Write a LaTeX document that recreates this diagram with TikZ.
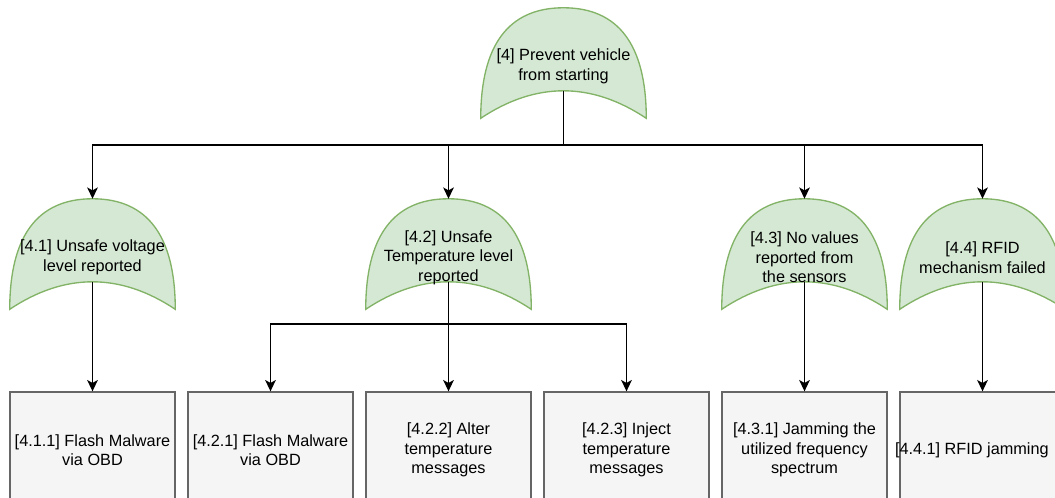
\documentclass[tikz,border=0pt]{standalone}
\usepackage{fontspec}
\setmainfont{Liberation Sans}
\usetikzlibrary{arrows.meta,backgrounds}

\definecolor{gatefill}{HTML}{D5E8D4}
\definecolor{gateline}{HTML}{82B366}
\definecolor{boxfill}{HTML}{F5F5F5}
\definecolor{boxline}{HTML}{666666}

\tikzset{
  labelfont/.style={font=\fontsize{12.2}{14.6}\selectfont},
  gate/.style={labelfont, minimum width=123.75pt, minimum height=82.5pt,
    inner sep=0pt, align=center},
  gateshape/.style={draw=gateline, fill=gatefill, line width=1pt},
  leaf/.style={labelfont, draw=boxline, fill=boxfill, line width=1pt,
    minimum width=123.75pt, minimum height=87pt, inner sep=0pt, align=center},
  link/.style={line width=1pt, -{Stealth[length=8.5pt,width=8pt,inset=2.2pt]}},
}

% OR-gate outline (pointing up) behind a gate node; the outline sits a
% little above the label. Defines #1-top and #1-base for the connectors.
\newcommand\gateoutline[1]{%
  \coordinate (#1-sw) at ([yshift=2.6pt]#1.south west);
  \coordinate (#1-se) at ([yshift=2.6pt]#1.south east);
  \coordinate (#1-top) at ([yshift=2.6pt]#1.north);
  \coordinate (#1-base) at ([yshift=23.2pt]#1.south);
  \begin{pgfonlayer}{background}
    \draw[gateshape] (#1-sw)
      .. controls ([yshift=55pt]#1-sw) and ([xshift=-41.25pt]#1-top) .. (#1-top)
      .. controls ([xshift=41.25pt]#1-top) and ([yshift=55pt]#1-se) .. (#1-se)
      .. controls ([shift={(-41.25pt,27.5pt)}]#1-se)
             and ([shift={(41.25pt,27.5pt)}]#1-sw) .. cycle;
  \end{pgfonlayer}
}

\begin{document}
\begin{tikzpicture}[x=0.75pt, y=-0.75pt]
  \useasboundingbox (0,0) rectangle (1055,497);

  % goal and sub-goals
  \node[gate] (g4)  at (563.5,66.5)  {[4] Prevent vehicle\\from starting};
  \node[gate] (g41) at (92.5,257.5)  {[4.1] Unsafe voltage\\level reported};
  \node[gate] (g42) at (448.5,257.5) {[4.2] Unsafe\\Temperature level\\reported};
  \node[gate] (g43) at (804.5,257.5) {[4.3] No values\\reported from\\the sensors};
  \node[gate] (g44) at (982.5,257.5) {[4.4] RFID\\mechanism failed};
  \gateoutline{g4}
  \gateoutline{g41}
  \gateoutline{g42}
  \gateoutline{g43}
  \gateoutline{g44}

  % attack steps
  \node[leaf] (l411) at (92.5,450)  {[4.1.1] Flash Malware\\via OBD};
  \node[leaf] (l421) at (270.5,450) {[4.2.1] Flash Malware\\via OBD};
  \node[leaf] (l422) at (448.5,450) {[4.2.2] Alter\\temperature\\messages};
  \node[leaf] (l423) at (626.5,450) {[4.2.3] Inject\\temperature\\messages};
  \node[leaf] (l431) at (804.5,450) {[4.3.1] Jamming the\\utilized frequency\\spectrum};
  \node[leaf] (l441) at (982.5,450) {\hspace*{-16pt}[4.4.1] RFID jamming};

  % branching levels
  \coordinate (busTop) at (0,145);
  \coordinate (busMid) at (0,324);

  \draw[link] (g4-base) -- (g4-base |- busTop) -| (g41-top);
  \draw[link] (g4-base) -- (g4-base |- busTop) -| (g42-top);
  \draw[link] (g4-base) -- (g4-base |- busTop) -| (g43-top);
  \draw[link] (g4-base) -- (g4-base |- busTop) -| (g44-top);

  \draw[link] (g41-base) -- (l411.north);
  \draw[link] (g42-base) -- (g42-base |- busMid) -| (l421.north);
  \draw[link] (g42-base) -- (l422.north);
  \draw[link] (g42-base) -- (g42-base |- busMid) -| (l423.north);
  \draw[link] (g43-base) -- (l431.north);
  \draw[link] (g44-base) -- (l441.north);
\end{tikzpicture}
\end{document}
